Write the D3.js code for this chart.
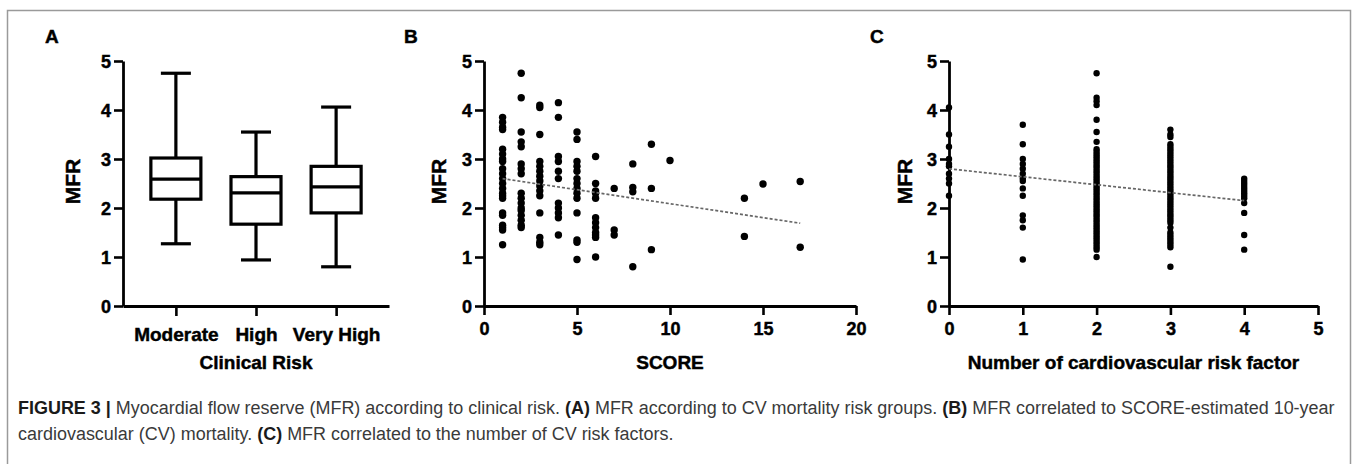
<!DOCTYPE html>
<html>
<head>
<meta charset="utf-8">
<script src="https://cdn.jsdelivr.net/npm/d3@7"></script>
<style>
  body { margin: 0; background: #fff; }
  svg { display: block; }
  text { font-family: "Liberation Sans", Arial, sans-serif; }
</style>
</head>
<body>
<div id="chart"></div>
<script>
// panel A: box plots per clinical risk group
const riskGroups = ["Moderate", "High", "Very High"];
const boxMin = [1.27, 0.94, 0.80];
const boxQ1 = [2.18, 1.67, 1.90];
const boxMedian = [2.59, 2.31, 2.43];
const boxQ3 = [3.02, 2.64, 2.85];
const boxMax = [4.75, 3.55, 4.06];

// panel B: MFR vs SCORE, one column of points per score value
const scoreLevels = [1, 2, 3, 4, 5, 6, 7, 8, 9, 10, 14, 15, 17];
const mfrByScore = [
  [3.85, 3.75, 3.65, 3.6, 3.2, 3.1, 3.0, 2.95, 2.8, 2.7, 2.6, 2.5, 2.4, 2.3, 2.25, 2.2, 1.9, 1.85, 1.65, 1.6, 1.55, 1.25],
  [4.75, 4.25, 3.55, 3.35, 3.25, 2.9, 2.8, 2.7, 2.3, 2.2, 2.1, 2.0, 1.95, 1.85, 1.75, 1.65, 1.6],
  [4.1, 4.05, 3.5, 2.95, 2.85, 2.75, 2.65, 2.55, 2.45, 2.35, 2.25, 1.9, 1.4, 1.3, 1.25],
  [4.15, 3.85, 3.05, 2.95, 2.75, 2.6, 2.1, 2.0, 1.9, 1.8, 1.45],
  [3.55, 3.4, 2.95, 2.85, 2.75, 2.6, 2.5, 2.4, 2.3, 2.2, 1.9, 1.35, 1.3, 0.95],
  [3.05, 2.5, 2.35, 2.3, 2.2, 1.8, 1.7, 1.6, 1.5, 1.45, 1.4, 1.0],
  [2.4, 1.55, 1.45],
  [2.9, 2.42, 2.33, 0.8],
  [3.3, 2.4, 1.15],
  [2.97],
  [2.2, 1.42],
  [2.49],
  [2.54, 1.2]
];
const scoreFit = [[1, 2.6], [17, 1.69]];

// panel C: MFR vs number of CV risk factors
const factorLevels = [0, 1, 2, 3, 4];
const mfrByFactors = [
  [4.05, 3.5, 3.25, 3.0, 2.9, 2.85, 2.7, 2.6, 2.5, 2.25],
  [3.7, 3.3, 3.0, 2.9, 2.8, 2.7, 2.6, 2.55, 2.4, 2.25, 1.85, 1.75, 1.6, 0.95],
  [4.75, 4.25, 4.18, 4.1, 3.8, 3.55, 3.35, 3.2, 3.15, 3.1, 3.05, 3.0, 2.95, 2.9, 2.85, 2.8, 2.75, 2.7, 2.65, 2.6, 2.55, 2.5, 2.45, 2.4, 2.35, 2.3, 2.25, 2.2, 2.15, 2.1, 2.05, 2.0, 1.95, 1.9, 1.85, 1.8, 1.75, 1.7, 1.65, 1.6, 1.55, 1.5, 1.45, 1.4, 1.35, 1.3, 1.25, 1.2, 1.15, 1.0],
  [3.6, 3.5, 3.45, 3.3, 3.25, 3.2, 3.15, 3.1, 3.05, 3.0, 2.95, 2.9, 2.85, 2.8, 2.75, 2.7, 2.65, 2.6, 2.55, 2.5, 2.45, 2.4, 2.35, 2.3, 2.25, 2.2, 2.15, 2.1, 2.05, 2.0, 1.95, 1.9, 1.85, 1.8, 1.75, 1.7, 1.6, 1.5, 1.45, 1.4, 1.35, 1.3, 1.25, 1.2, 0.8],
  [2.6, 2.55, 2.5, 2.45, 2.4, 2.35, 2.3, 2.25, 2.2, 2.1, 1.9, 1.45, 1.15]
];
const factorFit = [[0, 2.8], [4, 2.15]];

const mfrTicks = [0, 1, 2, 3, 4, 5];
const scoreTicks = [0, 5, 10, 15, 20];
const factorTicks = [0, 1, 2, 3, 4, 5];

const width = 1357, height = 464;
const yTop = 61, yBottom = 306;

const svg = d3.select("#chart").append("svg")
  .attr("width", width)
  .attr("height", height);

// outer frame
svg.append("rect")
  .attr("x", 7.5).attr("y", 10.5)
  .attr("width", 1343).attr("height", 470)
  .attr("fill", "none")
  .attr("stroke", "#9a9a9a")
  .attr("stroke-width", 1.5);

function heavy(sel) {
  sel.attr("font-weight", "bold").attr("stroke", "#000").attr("stroke-width", 0.45);
}

function styleAxis(g) {
  g.selectAll(".domain").attr("stroke", "#000").attr("stroke-width", 2.8);
  g.selectAll(".tick line").attr("stroke", "#000").attr("stroke-width", 2.6);
  g.selectAll(".tick text")
    .attr("fill", "#000")
    .attr("font-size", 18)
    .call(heavy);
}

function mfrAxis(x0) {
  const y = d3.scaleLinear([0, 5], [yBottom, yTop]);
  svg.append("g")
    .attr("transform", `translate(${x0},0)`)
    .call(d3.axisLeft(y).tickValues(mfrTicks).tickFormat(d3.format("d")).tickSize(9).tickSizeOuter(0).tickPadding(3))
    .call(styleAxis)
    .call(g => g.selectAll(".tick text").attr("dy", "0.36em"));
  return y;
}

function yTitle(x, text) {
  svg.append("text")
    .attr("transform", `translate(${x},${(yTop + yBottom) / 2 - 2}) rotate(-90)`)
    .attr("text-anchor", "middle")
    .attr("font-size", 21)
    .call(heavy)
    .text(text);
}

function xTitle(x, text) {
  svg.append("text")
    .attr("x", x).attr("y", 369)
    .attr("text-anchor", "middle")
    .attr("font-size", 19)
    .call(heavy)
    .text(text);
}

function panelLetter(x, text) {
  svg.append("text")
    .attr("x", x).attr("y", 43)
    .attr("font-size", 19)
    .call(heavy)
    .text(text);
}

// ---------- panel A ----------
panelLetter(45, "A");
const xA = d3.scalePoint(riskGroups, [123, 389]).padding(0.66);
const yA = mfrAxis(123);
svg.append("g")
  .attr("transform", `translate(0,${yBottom})`)
  .call(d3.axisBottom(xA).tickSize(10).tickSizeOuter(0).tickPadding(8))
  .call(styleAxis)
  .call(g => g.selectAll(".tick text").attr("font-size", 19).attr("dy", "0.9em"));
yTitle(80, "MFR");
xTitle(256, "Clinical Risk");

const boxes = svg.append("g")
  .selectAll("g")
  .data(riskGroups)
  .join("g")
  .attr("fill", "none")
  .attr("stroke", "#000")
  .attr("stroke-width", 3.2);

const boxW = 50, capW = 30;
boxes.append("line") // whisker
  .attr("x1", d => xA(d)).attr("x2", d => xA(d))
  .attr("y1", (d, i) => yA(boxMax[i])).attr("y2", (d, i) => yA(boxMin[i]));
boxes.append("rect")
  .attr("x", d => xA(d) - boxW / 2)
  .attr("width", boxW)
  .attr("y", (d, i) => yA(boxQ3[i]))
  .attr("height", (d, i) => yA(boxQ1[i]) - yA(boxQ3[i]))
  .attr("fill", "#fff");
boxes.append("line") // median
  .attr("x1", d => xA(d) - boxW / 2).attr("x2", d => xA(d) + boxW / 2)
  .attr("y1", (d, i) => yA(boxMedian[i])).attr("y2", (d, i) => yA(boxMedian[i]));
boxes.append("line") // top cap
  .attr("x1", d => xA(d) - capW / 2).attr("x2", d => xA(d) + capW / 2)
  .attr("y1", (d, i) => yA(boxMax[i])).attr("y2", (d, i) => yA(boxMax[i]));
boxes.append("line") // bottom cap
  .attr("x1", d => xA(d) - capW / 2).attr("x2", d => xA(d) + capW / 2)
  .attr("y1", (d, i) => yA(boxMin[i])).attr("y2", (d, i) => yA(boxMin[i]));

// ---------- scatter panels ----------
function scatterPanel({letterX, x0, x1, domain, ticks, levels, values, fit, r, title, ylabelX}) {
  panelLetter(letterX, title.letter);
  const x = d3.scaleLinear(domain, [x0, x1]);
  const y = mfrAxis(x0);
  svg.append("g")
    .attr("transform", `translate(0,${yBottom})`)
    .call(d3.axisBottom(x).tickValues(ticks).tickFormat(d3.format("d")).tickSize(9).tickSizeOuter(0).tickPadding(5))
    .call(styleAxis)
    .call(g => g.selectAll(".tick text").attr("dy", "0.85em"));
  yTitle(ylabelX, "MFR");
  xTitle((x0 + x1) / 2, title.x);

  const pts = levels.flatMap((lv, i) => values[i].map(v => [lv, v]));
  svg.append("g")
    .selectAll("circle")
    .data(pts)
    .join("circle")
    .attr("cx", d => x(d[0]))
    .attr("cy", d => y(d[1]))
    .attr("r", r)
    .attr("fill", "#000");

  svg.append("path")
    .datum(fit)
    .attr("d", d3.line().x(d => x(d[0])).y(d => y(d[1])))
    .attr("fill", "none")
    .attr("stroke", "#666")
    .attr("stroke-width", 1.7)
    .attr("stroke-dasharray", "3,2");
}

scatterPanel({
  letterX: 404, x0: 484, x1: 856, domain: [0, 20], ticks: scoreTicks,
  levels: scoreLevels, values: mfrByScore, fit: scoreFit, r: 3.7,
  title: {letter: "B", x: "SCORE"}, ylabelX: 446
});

scatterPanel({
  letterX: 870, x0: 949, x1: 1318, domain: [0, 5], ticks: factorTicks,
  levels: factorLevels, values: mfrByFactors, fit: factorFit, r: 3.2,
  title: {letter: "C", x: "Number of cardiovascular risk factor"}, ylabelX: 912
});

// ---------- caption ----------
const line1 = [
  ["FIGURE 3 |", true], [" Myocardial flow reserve (MFR) according to clinical risk. ", false],
  ["(A)", true], [" MFR according to CV mortality risk groups. ", false],
  ["(B)", true], [" MFR correlated to SCORE-estimated 10-year", false]
];
const line2 = [
  ["cardiovascular (CV) mortality. ", false], ["(C)", true],
  [" MFR correlated to the number of CV risk factors.", false]
];

function captionLine(parts, y) {
  const g = svg.append("g").attr("transform", `translate(18,${y})`);
  const t = g.append("text")
    .attr("font-size", 19)
    .attr("fill", "#3a3a3a");
  t.selectAll("tspan")
    .data(parts)
    .join("tspan")
    .attr("font-weight", d => d[1] ? "bold" : "normal")
    .attr("fill", d => d[1] ? "#1a1a1a" : "#3a3a3a")
    .text(d => d[0]);
  return [g, t];
}
const [g1, c1] = captionLine(line1, 414);
const [g2] = captionLine(line2, 440);
const sx = 1317 / c1.node().getComputedTextLength();
g1.attr("transform", `translate(18,414) scale(${sx},1)`);
g2.attr("transform", `translate(18,440) scale(${sx},1)`);
</script>
</body>
</html>
